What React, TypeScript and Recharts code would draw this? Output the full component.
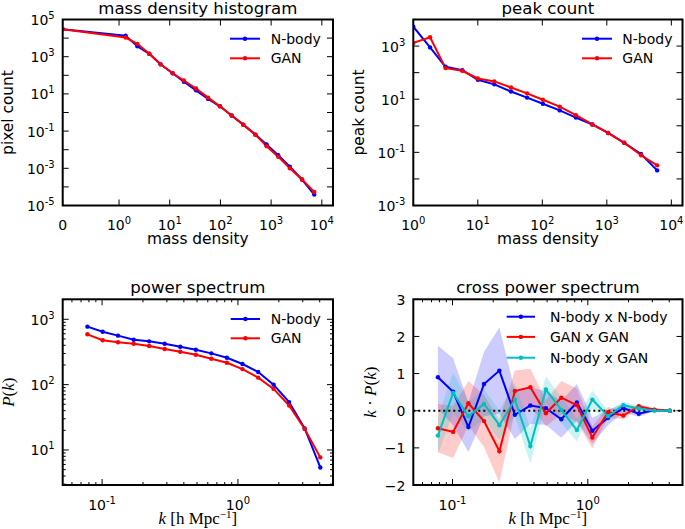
import React from "react";
import { ComposedChart, Line, Area, XAxis, YAxis, ReferenceLine } from "recharts";

const NBODY = "#0000ff";
const GAN = "#ff0000";
const MIX = "#00bfbf";
const SANS = "DejaVu Sans, sans-serif";
const SERIF = "Liberation Serif, DejaVu Serif, serif";

// mass density histogram
const histX = [0, 1.35, 2.3, 3.95, 6.6, 11.4, 19, 33, 57, 98, 166, 282, 490, 813, 1380, 2340, 4070, 7080];
const histNbody = [30200, 13500, 3630, 1430, 389, 129, 44.7, 15.5, 5.4, 2.16, 0.69, 0.222, 0.0646, 0.019, 0.0051, 0.00123, 0.00025, 0.000039];
const histGan = [30200, 10700, 4900, 1430, 389, 129, 52.5, 19.5, 6.3, 2.16, 0.69, 0.222, 0.0646, 0.0155, 0.0042, 0.001, 0.00025, 0.000054];

// peak count
const peakX = [1, 1.82, 3.16, 5.75, 10, 18, 32.7, 58, 102, 186, 331, 596, 1047, 1862, 3390, 6030];
const peakNbody = [5370, 891, 166, 123, 53.7, 36.3, 19.5, 11.5, 6.76, 3.8, 2.04, 1.12, 0.537, 0.229, 0.0871, 0.0209];
const peakGan = [1318, 2138, 148, 117.5, 60.3, 46.8, 27.5, 16.6, 9.55, 5.25, 2.51, 1.12, 0.537, 0.229, 0.0776, 0.0324];

// power spectrum
const kValues = [0.078, 0.101, 0.131, 0.171, 0.222, 0.289, 0.376, 0.49, 0.637, 0.83, 1.08, 1.41, 1.83, 2.38, 3.1, 4.04];
const powNbody = [771, 645, 562, 487, 460, 423, 380, 342, 301, 258, 207, 156, 100, 54, 21.4, 5.4];
const powGan = [589, 477, 445, 423, 390, 351, 319, 287, 249, 216, 173, 128, 86, 48, 21, 7.7];

// cross power spectrum (mean and spread)
const crossNbody = [0.9, 0.51, -0.44, 0.72, 1.08, -0.11, 0.14, 0.07, -0.23, 0.22, -0.54, -0.19, 0.07, -0.08, 0.02, 0.0];
const crossGan = [-0.47, -0.57, 0.2, -0.28, -1.09, 0.53, 0.63, -0.07, 0.35, 0.15, -0.72, -0.04, -0.13, 0.12, 0.03, 0.0];
const crossMix = [-0.67, 0.48, -0.15, 0.18, -0.39, 0.3, -0.95, 0.57, 0.02, -0.52, 0.3, -0.15, 0.15, 0.06, 0.0, 0.0];
const spreadNbody = [0.85, 0.9, 0.67, 0.87, 1.16, 0.65, 0.5, 0.45, 0.5, 0.5, 0.35, 0.2, 0.12, 0.08, 0.04, 0.02];
const spreadGan = [0.65, 0.7, 0.6, 0.7, 0.85, 0.55, 0.5, 0.35, 0.45, 0.45, 0.3, 0.15, 0.1, 0.06, 0.04, 0.02];
const spreadMix = [0.5, 0.55, 0.4, 0.4, 0.4, 0.45, 0.47, 0.35, 0.35, 0.3, 0.25, 0.15, 0.1, 0.06, 0.03, 0.02];

// ticks
const decades = (lo: number, hi: number) => {
  const out: number[] = [];
  for (let e = lo; e <= hi; e++) out.push(Math.pow(10, e));
  return out;
};
const kTicks = [0.06, 0.07, 0.08, 0.09, 0.1, 0.2, 0.3, 0.4, 0.5, 0.6, 0.7, 0.8, 0.9, 1, 2, 3, 4];
const powTicks = [3, 4, 5, 6, 7, 8, 9, 10, 20, 30, 40, 50, 60, 70, 80, 90, 100, 200, 300, 400, 500, 600, 700, 800, 900, 1000, 2000];
const crossTicks = [-2, -1, 0, 1, 2, 3];

// symlog axis (linthresh 1, linscale 1) like matplotlib's
const LIN = 1 / 0.9;
const symlog = (v: number) => (v <= 1 ? v * LIN : LIN + Math.log10(v));
const symTicks = [0, 1, 10, 100, 1000, 10000];

type Box = { left: number; right: number; top: number; bottom: number };
const box1: Box = { left: 62.7, right: 333, top: 19.5, bottom: 205.5 };
const box2: Box = { left: 413.3, right: 682.5, top: 19.5, bottom: 205.5 };
const box3: Box = { left: 62.7, right: 333, top: 299.3, bottom: 485 };
const box4: Box = { left: 413.3, right: 682.5, top: 299.3, bottom: 485 };

const W = 685;
const H = 529;

const histData = histX.map((x, i) => ({ t: symlog(x), nbody: histNbody[i], gan: histGan[i] }));
const peakData = peakX.map((x, i) => ({ x, nbody: peakNbody[i], gan: peakGan[i] }));
const powData = kValues.map((k, i) => ({ k, nbody: powNbody[i], gan: powGan[i] }));
const crossData = kValues.map((k, i) => ({
  k,
  nbody: crossNbody[i],
  gan: crossGan[i],
  mix: crossMix[i],
  nbodyBand: [crossNbody[i] - spreadNbody[i], crossNbody[i] + spreadNbody[i]],
  ganBand: [crossGan[i] - spreadGan[i], crossGan[i] + spreadGan[i]],
  mixBand: [crossMix[i] - spreadMix[i], crossMix[i] + spreadMix[i]],
}));

const expOf = (v: number) => Math.round(Math.log10(v));
const isDecade = (v: number) => Math.abs(Math.log10(v) - expOf(v)) < 1e-6;

const pow10 = (e: number) => (
  <>
    <tspan>10</tspan>
    <tspan dy={-6} fontSize={10}>
      {e < 0 ? `-${-e}` : `${e}`}
    </tspan>
  </>
);

type Fmt = (v: number) => React.ReactNode | null;

function bottomTick(b: Box, fmt: Fmt, minor: (v: number) => boolean) {
  return (p: any) => {
    const x = p.x;
    const v = p.payload.value;
    const len = minor(v) ? 3 : 6;
    const lab = fmt(v);
    return (
      <g>
        <line x1={x} x2={x} y1={b.bottom} y2={b.bottom - len} stroke="#000" />
        <line x1={x} x2={x} y1={b.top} y2={b.top + len} stroke="#000" />
        {lab !== null && (
          <text x={x} y={b.bottom + 24.5} textAnchor="middle" fontSize={14} fontFamily={SANS} fill="#000">
            {lab}
          </text>
        )}
      </g>
    );
  };
}

function leftTick(b: Box, fmt: Fmt, minor: (v: number) => boolean) {
  return (p: any) => {
    const y = p.y;
    const v = p.payload.value;
    const len = minor(v) ? 3 : 6;
    const lab = fmt(v);
    return (
      <g>
        <line x1={b.left} x2={b.left + len} y1={y} y2={y} stroke="#000" />
        <line x1={b.right} x2={b.right - len} y1={y} y2={y} stroke="#000" />
        {lab !== null && (
          <text x={b.left - 8} y={y + 5.5} textAnchor="end" fontSize={14} fontFamily={SANS} fill="#000">
            {lab}
          </text>
        )}
      </g>
    );
  };
}

const never = () => false;
const oddDecade: Fmt = (v) => (Math.abs(expOf(v)) % 2 === 1 ? pow10(expOf(v)) : null);
const decadeLabel: Fmt = (v) => (isDecade(v) ? pow10(expOf(v)) : null);
const symLabel: Fmt = (t) => (t < 0.5 ? "0" : pow10(Math.round(t - LIN)));
const linLabel: Fmt = (v) => (v < 0 ? `\u2212${-v}` : `${v}`);

const chartMargin = (b: Box) => ({ top: b.top, right: W - b.right, bottom: 0, left: 0 });

const dotStyle = (c: string) => ({ r: 2.2, fill: c, stroke: c, strokeWidth: 0 });

type Row = { y: number; color: string; label: string };
function LegendBox({ x1, x2, tx, rows }: { x1: number; x2: number; tx: number; rows: Row[] }) {
  return (
    <g>
      {rows.map((r) => (
        <g key={r.label}>
          <line x1={x1} x2={x2} y1={r.y} y2={r.y} stroke={r.color} strokeWidth={2} />
          <circle cx={(x1 + x2) / 2} cy={r.y} r={2.2} fill={r.color} />
          <text x={tx} y={r.y + 5} fontSize={14} fontFamily={SANS} fill="#000">
            {r.label}
          </text>
        </g>
      ))}
    </g>
  );
}

const mid = (b: Box) => (b.left + b.right) / 2;
const midY = (b: Box) => (b.top + b.bottom) / 2;

const kLabel = (
  <>
    <tspan fontStyle="italic">k</tspan>
    <tspan> [h Mpc</tspan>
    <tspan dy={-6} fontSize={11}>{"\u22121"}</tspan>
    <tspan dy={6}>]</tspan>
  </>
);

function Overlay() {
  const frames = [box1, box2, box3, box4];
  return (
    <svg width={W} height={H} style={{ position: "absolute", left: 0, top: 0, pointerEvents: "none" }}>
      {frames.map((b, i) => (
        <rect key={i} x={b.left} y={b.top} width={b.right - b.left} height={b.bottom - b.top} fill="none" stroke="#000" strokeWidth={2} />
      ))}
      <g fontFamily={SANS} fontSize={16.6} textAnchor="middle" fill="#000">
        <text x={mid(box1)} y={14}>mass density histogram</text>
        <text x={mid(box2)} y={14}>peak count</text>
        <text x={mid(box3)} y={292.5}>power spectrum</text>
        <text x={mid(box4)} y={292.5}>cross power spectrum</text>
      </g>
      <g fontFamily={SANS} fontSize={15.4} textAnchor="middle" fill="#000">
        <text x={mid(box1)} y={244}>mass density</text>
        <text x={mid(box2)} y={244}>mass density</text>
        <text x={12.5} y={midY(box1)} transform={`rotate(-90 12.5 ${midY(box1)})`}>pixel count</text>
        <text x={363.5} y={midY(box2)} transform={`rotate(-90 363.5 ${midY(box2)})`}>peak count</text>
      </g>
      <g fontFamily={SERIF} fontSize={17} textAnchor="middle" fill="#000">
        <text x={mid(box3)} y={524}>{kLabel}</text>
        <text x={mid(box4)} y={524}>{kLabel}</text>
        <text x={14} y={midY(box3)} transform={`rotate(-90 14 ${midY(box3)})`}>
          <tspan fontStyle="italic">P</tspan>(<tspan fontStyle="italic">k</tspan>)
        </text>
        <text x={376} y={midY(box4)} transform={`rotate(-90 376 ${midY(box4)})`}>
          <tspan fontStyle="italic">k</tspan> {"\u00b7"} <tspan fontStyle="italic">P</tspan>(<tspan fontStyle="italic">k</tspan>)
        </text>
      </g>
      <LegendBox x1={230} x2={260} tx={270.7} rows={[{ y: 38.7, color: NBODY, label: "N-body" }, { y: 58.3, color: GAN, label: "GAN" }]} />
      <LegendBox x1={582} x2={612} tx={622.3} rows={[{ y: 38.7, color: NBODY, label: "N-body" }, { y: 58.3, color: GAN, label: "GAN" }]} />
      <LegendBox x1={230.7} x2={260} tx={270.7} rows={[{ y: 319, color: NBODY, label: "N-body" }, { y: 338.3, color: GAN, label: "GAN" }]} />
      <LegendBox
        x1={506.7}
        x2={535}
        tx={550}
        rows={[
          { y: 316.7, color: NBODY, label: "N-body x N-body" },
          { y: 336.9, color: GAN, label: "GAN x GAN" },
          { y: 357.7, color: MIX, label: "N-body x GAN" },
        ]}
      />
    </svg>
  );
}

const abs: React.CSSProperties = { position: "absolute", left: 0, top: 0 };

export default function App() {
  return (
    <div style={{ position: "absolute", left: 0, top: 0, width: W, height: H, background: "#fff" }}>
      <div style={abs}>
        <ComposedChart width={W} height={H} data={histData} margin={chartMargin(box1)}>
          <XAxis dataKey="t" type="number" domain={[0, (box1.right - box1.left) / 50.7]} allowDataOverflow ticks={symTicks.map(symlog)} interval={0} height={H - box1.bottom} axisLine={false} tickLine={false} tick={bottomTick(box1, symLabel, never)} />
          <YAxis type="number" scale="log" domain={[1e-5, 1e5]} allowDataOverflow ticks={decades(-5, 5)} interval={0} width={box1.left} axisLine={false} tickLine={false} tick={leftTick(box1, oddDecade, never)} />
          <Line type="linear" dataKey="nbody" stroke={NBODY} strokeWidth={2} dot={dotStyle(NBODY)} activeDot={false} isAnimationActive={false} />
          <Line type="linear" dataKey="gan" stroke={GAN} strokeWidth={2} dot={dotStyle(GAN)} activeDot={false} isAnimationActive={false} />
        </ComposedChart>
      </div>
      <div style={abs}>
        <ComposedChart width={W} height={H} data={peakData} margin={chartMargin(box2)}>
          <XAxis dataKey="x" type="number" scale="log" domain={[1, 14900]} allowDataOverflow ticks={decades(0, 4)} interval={0} height={H - box2.bottom} axisLine={false} tickLine={false} tick={bottomTick(box2, decadeLabel, never)} />
          <YAxis type="number" scale="log" domain={[1e-3, 1e4]} allowDataOverflow ticks={decades(-3, 4)} interval={0} width={box2.left} axisLine={false} tickLine={false} tick={leftTick(box2, oddDecade, never)} />
          <Line type="linear" dataKey="nbody" stroke={NBODY} strokeWidth={2} dot={dotStyle(NBODY)} activeDot={false} isAnimationActive={false} />
          <Line type="linear" dataKey="gan" stroke={GAN} strokeWidth={2} dot={dotStyle(GAN)} activeDot={false} isAnimationActive={false} />
        </ComposedChart>
      </div>
      <div style={abs}>
        <ComposedChart width={W} height={H} data={powData} margin={chartMargin(box3)}>
          <XAxis dataKey="k" type="number" scale="log" domain={[0.0513, 5.01]} allowDataOverflow ticks={kTicks} interval={0} height={H - box3.bottom} axisLine={false} tickLine={false} tick={bottomTick(box3, decadeLabel, (v) => !isDecade(v))} />
          <YAxis type="number" scale="log" domain={[2.91, 2023]} allowDataOverflow ticks={powTicks} interval={0} width={box3.left} axisLine={false} tickLine={false} tick={leftTick(box3, decadeLabel, (v) => !isDecade(v))} />
          <Line type="linear" dataKey="nbody" stroke={NBODY} strokeWidth={2} dot={dotStyle(NBODY)} activeDot={false} isAnimationActive={false} />
          <Line type="linear" dataKey="gan" stroke={GAN} strokeWidth={2} dot={dotStyle(GAN)} activeDot={false} isAnimationActive={false} />
        </ComposedChart>
      </div>
      <div style={abs}>
        <ComposedChart width={W} height={H} data={crossData} margin={chartMargin(box4)}>
          <XAxis dataKey="k" type="number" scale="log" domain={[0.0513, 5.01]} allowDataOverflow ticks={kTicks} interval={0} height={H - box4.bottom} axisLine={false} tickLine={false} tick={bottomTick(box4, decadeLabel, (v) => !isDecade(v))} />
          <YAxis type="number" domain={[-2, 3]} allowDataOverflow ticks={crossTicks} interval={0} width={box4.left} axisLine={false} tickLine={false} tick={leftTick(box4, linLabel, never)} />
          <Area type="linear" dataKey="nbodyBand" stroke="none" fill={NBODY} fillOpacity={0.2} dot={false} activeDot={false} isAnimationActive={false} />
          <Area type="linear" dataKey="ganBand" stroke="none" fill={GAN} fillOpacity={0.2} dot={false} activeDot={false} isAnimationActive={false} />
          <Area type="linear" dataKey="mixBand" stroke="none" fill={MIX} fillOpacity={0.2} dot={false} activeDot={false} isAnimationActive={false} />
          <ReferenceLine y={0} stroke="#000" strokeWidth={2} strokeDasharray="2 3" />
          <Line type="linear" dataKey="nbody" stroke={NBODY} strokeWidth={2} dot={dotStyle(NBODY)} activeDot={false} isAnimationActive={false} />
          <Line type="linear" dataKey="gan" stroke={GAN} strokeWidth={2} dot={dotStyle(GAN)} activeDot={false} isAnimationActive={false} />
          <Line type="linear" dataKey="mix" stroke={MIX} strokeWidth={2} dot={dotStyle(MIX)} activeDot={false} isAnimationActive={false} />
        </ComposedChart>
      </div>
      <Overlay />
    </div>
  );
}
